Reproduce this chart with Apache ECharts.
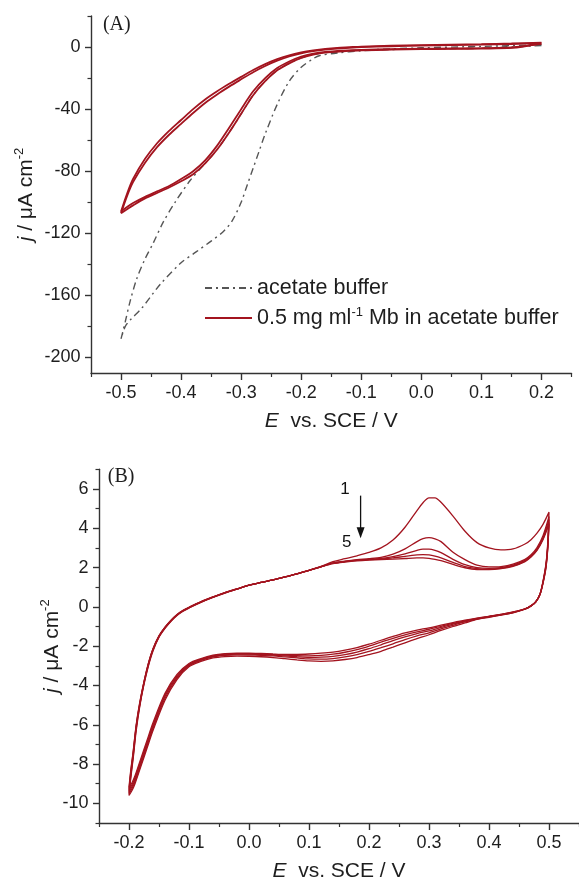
<!DOCTYPE html>
<html><head><meta charset="utf-8">
<script src="https://cdn.jsdelivr.net/npm/echarts@6/dist/echarts.min.js"></script>
<style>html,body{margin:0;padding:0;background:#fff}#c{width:579px;height:883px}</style>
</head><body><div id="c"></div>
<script>
// ---------- Panel A data ----------
const aXTicks = [-0.5, -0.4, -0.3, -0.2, -0.1, 0, 0.1, 0.2];
const aXMinor = [-0.55, -0.45, -0.35, -0.25, -0.15, -0.05, 0.05, 0.15, 0.25];
const aYTicks = [-200, -160, -120, -80, -40, 0];
const aYMinor = [-180, -140, -100, -60, -20, 20];

// Mb cycles: forward (cathodic) branch then reverse branch
const mbE_fwd = [0.2, 0.15, 0.1, 0.05, 0, -0.05, -0.1, -0.13, -0.16, -0.18, -0.2, -0.22, -0.24, -0.26, -0.28, -0.3, -0.32, -0.34, -0.36, -0.38, -0.4, -0.42, -0.44, -0.46, -0.48, -0.49, -0.5];
const mb1_fwd = [2.4, -0.6, -1.0, -1.2, -1.4, -1.7, -2.2, -2.8, -3.6, -4.9, -7.0, -10.5, -15, -22, -31, -43, -55, -66, -75, -82, -86.5, -90.5, -94, -97.5, -102, -104.5, -107];
const mb2_fwd = [2.0, -0.3, -0.7, -0.9, -1.1, -1.4, -1.8, -2.3, -3.1, -4.2, -6.1, -9.3, -13.5, -20, -28.5, -40, -52, -63.5, -73, -80, -85, -89.5, -93, -96.5, -100.5, -103, -106];
const mbE_rev = [-0.49, -0.48, -0.46, -0.44, -0.42, -0.4, -0.38, -0.36, -0.34, -0.32, -0.3, -0.28, -0.26, -0.24, -0.22, -0.2, -0.18, -0.16, -0.14, -0.12, -0.1, -0.05, 0, 0.05, 0.1, 0.15, 0.2];
const mb1_rev = [-96, -87, -74.5, -64.5, -56.5, -49.5, -42.5, -36, -30.5, -25.5, -20.8, -16.2, -12.2, -8.8, -6.1, -4.1, -2.7, -1.7, -1.0, -0.5, -0.1, 0.5, 0.9, 1.2, 1.5, 1.9, 2.5];
const mb2_rev = [-94.5, -85, -72, -62, -54, -47, -40, -33.8, -28.5, -23.7, -19.2, -14.8, -11, -7.8, -5.3, -3.5, -2.2, -1.2, -0.5, -0.1, 0.3, 0.9, 1.3, 1.6, 1.9, 2.3, 2.9];

// acetate buffer
const bufE = [0.2, 0.1, 0, -0.05, -0.1, -0.14, -0.17, -0.18, -0.2, -0.22, -0.24, -0.26, -0.27, -0.28, -0.29, -0.3, -0.315, -0.33, -0.35, -0.375, -0.4, -0.435, -0.465, -0.485, -0.493, -0.5, -0.493, -0.485, -0.474, -0.46, -0.446, -0.43, -0.41, -0.385, -0.36, -0.34, -0.32, -0.3, -0.28, -0.26, -0.24, -0.22, -0.2, -0.18, -0.15, -0.1, 0, 0.1, 0.2];
const bufJ = [1.0, -0.8, -1.2, -1.6, -2.4, -3.8, -5.6, -7.5, -13, -22, -37, -56, -67, -78, -89, -100, -112, -119, -125, -132, -139, -153, -168, -176, -180, -188, -177, -164, -149.5, -136.5, -126, -113, -100, -86, -75, -66, -55, -43, -31, -22, -15, -10.5, -7, -4.8, -3.2, -2.0, -0.5, 0.4, 1.5];

// ---------- Panel B data ----------
const bXTicks = [-0.2, -0.1, 0, 0.1, 0.2, 0.3, 0.4, 0.5];
const bXMinor = [-0.25, -0.15, -0.05, 0.05, 0.15, 0.25, 0.35, 0.45, 0.55];
const bYTicks = [-10, -8, -6, -4, -2, 0, 2, 4, 6];
const bYMinor = [-11, -9, -7, -5, -3, -1, 1, 3, 5, 7];

const cvE_an = [-0.2, -0.197, -0.193, -0.188, -0.182, -0.175, -0.168, -0.16, -0.15, -0.14, -0.13, -0.12, -0.11, -0.1, -0.08, -0.06, -0.04, -0.02, 0, 0.02, 0.04, 0.06, 0.08, 0.1, 0.12, 0.14, 0.16, 0.18, 0.2, 0.22, 0.24, 0.26, 0.28, 0.29, 0.3, 0.31, 0.32, 0.34, 0.36, 0.38, 0.4, 0.42, 0.44, 0.46, 0.47, 0.48, 0.49, 0.5];
const cvE_ca = [0.498, 0.495, 0.49, 0.485, 0.478, 0.47, 0.46, 0.44, 0.42, 0.4, 0.38, 0.36, 0.34, 0.32, 0.3, 0.28, 0.26, 0.24, 0.22, 0.2, 0.18, 0.16, 0.14, 0.12, 0.1, 0.08, 0.06, 0.04, 0.02, 0, -0.02, -0.04, -0.06, -0.08, -0.1, -0.12, -0.14, -0.16, -0.17, -0.18, -0.19, -0.195, -0.2];

const c1_an = [-9.6, -8.7, -7.7, -6.3, -5.05, -3.95, -3.05, -2.25, -1.55, -1.1, -0.74, -0.44, -0.22, -0.06, 0.23, 0.48, 0.7, 0.9, 1.1, 1.24, 1.37, 1.52, 1.68, 1.86, 2.06, 2.3, 2.45, 2.6, 2.77, 3.0, 3.4, 4.05, 4.9, 5.3, 5.55, 5.55, 5.32, 4.62, 3.85, 3.27, 3.0, 2.9, 2.95, 3.2, 3.42, 3.75, 4.2, 4.82];
const c2_an = [-9.5, -8.6, -7.6, -6.2, -5.0, -3.9, -3.0, -2.2, -1.52, -1.07, -0.72, -0.42, -0.21, -0.05, 0.24, 0.49, 0.71, 0.9, 1.1, 1.24, 1.37, 1.52, 1.68, 1.86, 2.05, 2.24, 2.33, 2.4, 2.45, 2.52, 2.68, 2.95, 3.32, 3.47, 3.52, 3.46, 3.32, 2.78, 2.4, 2.12, 2.03, 2.05, 2.17, 2.42, 2.65, 3.02, 3.62, 4.6];
const c3_an = [-9.4, -8.5, -7.5, -6.1, -4.95, -3.85, -2.95, -2.17, -1.5, -1.05, -0.7, -0.41, -0.2, -0.04, 0.25, 0.5, 0.72, 0.91, 1.1, 1.24, 1.37, 1.52, 1.68, 1.86, 2.04, 2.22, 2.31, 2.38, 2.42, 2.47, 2.56, 2.7, 2.88, 2.94, 2.94, 2.88, 2.76, 2.42, 2.15, 2.0, 1.96, 2.0, 2.12, 2.38, 2.6, 2.95, 3.52, 4.45];
const c4_an = [-9.3, -8.4, -7.4, -6.05, -4.9, -3.82, -2.93, -2.15, -1.48, -1.04, -0.69, -0.4, -0.19, -0.03, 0.26, 0.5, 0.72, 0.91, 1.1, 1.24, 1.37, 1.52, 1.68, 1.86, 2.04, 2.21, 2.3, 2.36, 2.4, 2.44, 2.49, 2.57, 2.64, 2.66, 2.64, 2.58, 2.49, 2.26, 2.05, 1.95, 1.92, 1.96, 2.08, 2.33, 2.56, 2.9, 3.46, 4.3];
const c5_an = [-9.2, -8.3, -7.35, -6.0, -4.85, -3.8, -2.9, -2.13, -1.47, -1.03, -0.68, -0.39, -0.18, -0.02, 0.27, 0.51, 0.73, 0.92, 1.1, 1.24, 1.37, 1.52, 1.68, 1.86, 2.04, 2.2, 2.28, 2.34, 2.38, 2.41, 2.43, 2.46, 2.49, 2.49, 2.47, 2.42, 2.35, 2.16, 1.99, 1.9, 1.89, 1.94, 2.06, 2.3, 2.53, 2.87, 3.42, 4.2];

const c1_ca = [3.3, 2.2, 1.3, 0.66, 0.27, 0.05, -0.12, -0.3, -0.42, -0.53, -0.64, -0.82, -1.0, -1.2, -1.42, -1.62, -1.83, -2.05, -2.26, -2.43, -2.58, -2.68, -2.75, -2.77, -2.75, -2.7, -2.64, -2.58, -2.54, -2.52, -2.51, -2.53, -2.6, -2.78, -3.05, -3.7, -4.75, -6.3, -7.2, -8.1, -9.0, -9.35, -9.6];
const c2_ca = [3.2, 2.15, 1.27, 0.65, 0.26, 0.05, -0.11, -0.29, -0.41, -0.51, -0.62, -0.77, -0.94, -1.12, -1.32, -1.48, -1.67, -1.88, -2.08, -2.27, -2.43, -2.55, -2.63, -2.66, -2.65, -2.6, -2.55, -2.5, -2.47, -2.45, -2.44, -2.47, -2.55, -2.73, -3.0, -3.63, -4.65, -6.2, -7.1, -8.0, -8.9, -9.25, -9.5];
const c3_ca = [3.1, 2.1, 1.24, 0.64, 0.26, 0.05, -0.11, -0.28, -0.4, -0.5, -0.6, -0.73, -0.88, -1.05, -1.22, -1.36, -1.53, -1.72, -1.93, -2.13, -2.3, -2.43, -2.52, -2.56, -2.57, -2.54, -2.5, -2.46, -2.43, -2.41, -2.41, -2.44, -2.52, -2.7, -2.96, -3.56, -4.55, -6.1, -7.0, -7.9, -8.8, -9.15, -9.4];
const c4_ca = [3.05, 2.05, 1.22, 0.63, 0.25, 0.05, -0.1, -0.27, -0.39, -0.49, -0.59, -0.71, -0.84, -0.99, -1.14, -1.27, -1.42, -1.6, -1.8, -2.0, -2.18, -2.31, -2.41, -2.47, -2.49, -2.48, -2.46, -2.43, -2.4, -2.38, -2.38, -2.41, -2.49, -2.66, -2.92, -3.5, -4.47, -6.0, -6.9, -7.8, -8.7, -9.05, -9.3];
const c5_ca = [3.0, 2.0, 1.2, 0.62, 0.25, 0.05, -0.1, -0.26, -0.38, -0.48, -0.58, -0.68, -0.8, -0.93, -1.07, -1.18, -1.32, -1.5, -1.7, -1.9, -2.07, -2.2, -2.3, -2.36, -2.4, -2.42, -2.42, -2.4, -2.37, -2.35, -2.35, -2.38, -2.46, -2.63, -2.88, -3.44, -4.4, -5.9, -6.8, -7.7, -8.6, -8.95, -9.2];

// annotation anchors (data coordinates)
const labelA = [-0.507, 14.6];
const labelB = [-0.213, 6.63];
const annot = { one: [0.16, 5.96], five: [0.163, 3.29], arrowFrom: [0.186, 5.66], arrowTo: [0.186, 3.49] };

// ---------- helpers ----------
const zip = (xs, ys) => xs.map((x, i) => [x, ys[i]]);
const FONT = 'Liberation Sans, Arial, sans-serif';
const SERIF = 'Liberation Serif, Times New Roman, serif';
const AXC = '#333';
const TXT = '#1e1e1e';
const RED = '#a3141f';

function majorX(grid, min, max, ticks, nameGap) {
  return {
    type: 'value', gridIndex: grid, min: min, max: max, interval: 0.05, position: 'bottom',
    axisLine: { show: true, onZero: false, lineStyle: { color: AXC, width: 1.4 } },
    axisTick: { show: true, length: 7, customValues: ticks, lineStyle: { color: AXC, width: 1.4 } },
    axisLabel: { customValues: ticks, formatter: v => v.toFixed(1), fontSize: 18, color: TXT, margin: 11, fontFamily: FONT },
    splitLine: { show: false },
    name: '{it|E}  vs. SCE / V', nameLocation: 'middle', nameGap: nameGap, nameMoveOverlap: false,
    nameTextStyle: { fontSize: 21, color: TXT, fontFamily: FONT, rich: { it: { fontSize: 21, fontStyle: 'italic', fontFamily: FONT, color: TXT } } }
  };
}
function minorX(grid, min, max, ticks) {
  return {
    type: 'value', gridIndex: grid, min: min, max: max, interval: 0.05, position: 'bottom', offset: 0,
    axisLine: { show: false, onZero: false },
    axisTick: { show: true, length: 4, customValues: ticks, lineStyle: { color: AXC, width: 1.2 } },
    axisLabel: { show: false }, splitLine: { show: false }
  };
}
function majorY(grid, min, max, interval, ticks, nameGap) {
  return {
    type: 'value', gridIndex: grid, min: min, max: max, interval: interval, position: 'left',
    axisLine: { show: true, onZero: false, lineStyle: { color: AXC, width: 1.4 } },
    axisTick: { show: true, length: 6, customValues: ticks, lineStyle: { color: AXC, width: 1.4 } },
    axisLabel: { customValues: ticks, formatter: v => String(Math.round(v)), fontSize: 18, color: TXT, margin: 10.5, fontFamily: FONT },
    splitLine: { show: false },
    name: '{it|j} / μA cm{sup|-2}', nameLocation: 'middle', nameGap: nameGap, nameRotate: 90, nameMoveOverlap: false,
    nameTextStyle: { fontSize: 21, color: TXT, fontFamily: FONT, lineHeight: 26,
      rich: { it: { fontSize: 21, fontStyle: 'italic', fontFamily: FONT, color: TXT, lineHeight: 26 },
              sup: { fontSize: 13, fontFamily: FONT, color: TXT, verticalAlign: 'top', lineHeight: 15 } } }
  };
}
function minorY(grid, min, max, interval, ticks) {
  return {
    type: 'value', gridIndex: grid, min: min, max: max, interval: interval, position: 'left', offset: 0,
    axisLine: { show: false, onZero: false },
    axisTick: { show: true, length: 3.5, customValues: ticks, lineStyle: { color: AXC, width: 1.2 } },
    axisLabel: { show: false }, splitLine: { show: false }
  };
}

const MB_NAME = '0.5 mg ml-1 Mb in acetate buffer';
const BUF_NAME = 'acetate buffer';

function lineSeries(name, data, xi, color, width, type) {
  return { type: 'line', name: name, xAxisIndex: xi, yAxisIndex: xi, data: data, symbol: 'none', smooth: 0.3,
    animation: false, lineStyle: { color: color, width: width, type: type || 'solid' }, itemStyle: { color: color } };
}

const chart = echarts.init(document.getElementById('c'), null, { renderer: 'canvas' });
const option = {
  animation: false,
  backgroundColor: '#fff',
  grid: [
    { left: 91, right: 7.5, top: 16, height: 357 },
    { left: 99, right: 0, top: 469.3, height: 357.4 }
  ],
  xAxis: [majorX(0, -0.55, 0.25, aXTicks, 38), minorX(0, -0.55, 0.25, aXMinor),
          majorX(1, -0.25, 0.55, bXTicks, 38), minorX(1, -0.25, 0.55, bXMinor)],
  yAxis: [majorY(0, -210, 20, 10, aYTicks, 52), minorY(0, -210, 20, 10, aYMinor),
          majorY(1, -11, 7, 1, bYTicks, 34), minorY(1, -11, 7, 1, bYMinor)],
  legend: {
    data: [BUF_NAME, MB_NAME], orient: 'vertical', left: 199, top: 271, itemWidth: 47, itemHeight: 14, itemGap: 6,
    selectedMode: false,
    itemStyle: { opacity: 0, borderWidth: 0 },
    formatter: n => n === MB_NAME ? '0.5 mg ml{sup|-1} Mb in acetate buffer' : n,
    textStyle: { fontSize: 21.5, color: TXT, fontFamily: FONT, lineHeight: 24,
      rich: { sup: { fontSize: 13, fontFamily: FONT, color: TXT, verticalAlign: 'top', lineHeight: 13 } } }
  },
  series: [
    lineSeries(BUF_NAME, zip(bufE, bufJ), 0, '#555', 1.4, [7, 4, 2, 4]),
    lineSeries(MB_NAME, zip(mbE_fwd.concat(mbE_rev), mb1_fwd.concat(mb1_rev)), 0, RED, 1.8),
    lineSeries(MB_NAME, zip(mbE_fwd.concat(mbE_rev), mb2_fwd.concat(mb2_rev)), 0, RED, 1.8),
    lineSeries('cycle 1', zip(cvE_an.concat(cvE_ca), c1_an.concat(c1_ca)), 2, RED, 1.3),
    lineSeries('cycle 2', zip(cvE_an.concat(cvE_ca), c2_an.concat(c2_ca)), 2, RED, 1.3),
    lineSeries('cycle 3', zip(cvE_an.concat(cvE_ca), c3_an.concat(c3_ca)), 2, RED, 1.3),
    lineSeries('cycle 4', zip(cvE_an.concat(cvE_ca), c4_an.concat(c4_ca)), 2, RED, 1.3),
    lineSeries('cycle 5', zip(cvE_an.concat(cvE_ca), c5_an.concat(c5_ca)), 2, RED, 1.3)
  ]
};
chart.setOption(option);

// annotations positioned through the axes
const pA = chart.convertToPixel({ xAxisIndex: 0, yAxisIndex: 0 }, labelA);
const pB = chart.convertToPixel({ xAxisIndex: 2, yAxisIndex: 2 }, labelB);
const p1 = chart.convertToPixel({ xAxisIndex: 2, yAxisIndex: 2 }, annot.one);
const p5 = chart.convertToPixel({ xAxisIndex: 2, yAxisIndex: 2 }, annot.five);
const a0 = chart.convertToPixel({ xAxisIndex: 2, yAxisIndex: 2 }, annot.arrowFrom);
const a1 = chart.convertToPixel({ xAxisIndex: 2, yAxisIndex: 2 }, annot.arrowTo);
chart.setOption({
  graphic: [
    { type: 'text', x: pA[0], y: pA[1], style: { text: '(A)', font: '20px ' + SERIF, fill: TXT, align: 'center', verticalAlign: 'middle' } },
    { type: 'text', x: pB[0], y: pB[1], style: { text: '(B)', font: '20px ' + SERIF, fill: TXT, align: 'center', verticalAlign: 'middle' } },
    { type: 'text', x: p1[0], y: p1[1], style: { text: '1', font: '17px ' + FONT, fill: '#111', align: 'center', verticalAlign: 'middle' } },
    { type: 'text', x: p5[0], y: p5[1], style: { text: '5', font: '17px ' + FONT, fill: '#111', align: 'center', verticalAlign: 'middle' } },
    { type: 'line', shape: { x1: a0[0], y1: a0[1], x2: a1[0], y2: a1[1] - 10 }, style: { stroke: '#111', lineWidth: 1.3 } },
    { type: 'polygon', shape: { points: [[a1[0] - 4, a1[1] - 11], [a1[0] + 4, a1[1] - 11], [a1[0], a1[1]]] }, style: { fill: '#111' } }
  ]
});
</script></body></html>
